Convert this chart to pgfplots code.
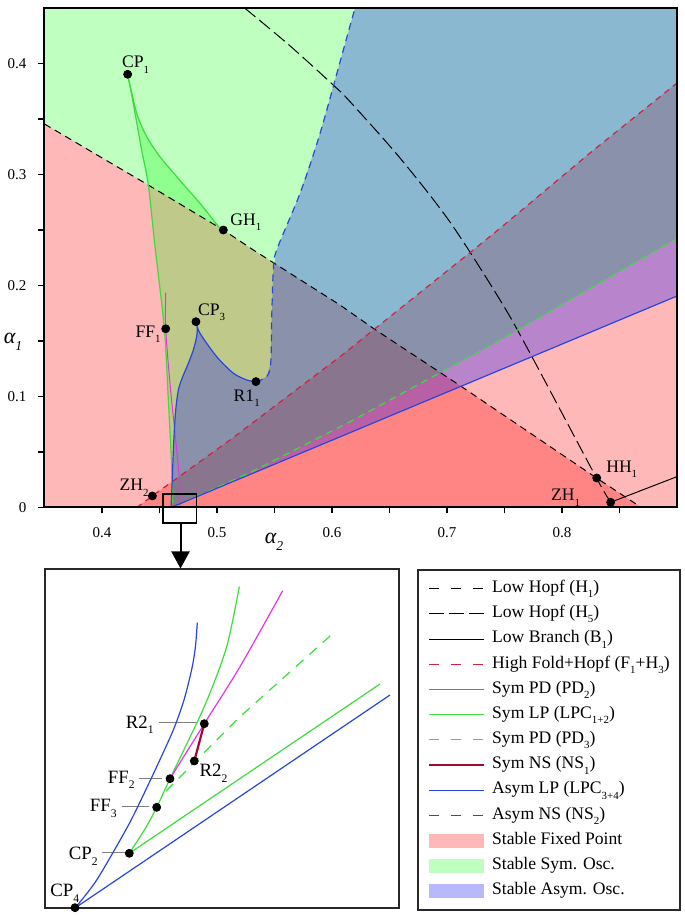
\documentclass[border=0pt]{standalone}
\usepackage{fontspec}
\setmainfont{Liberation Serif}
\usepackage{graphicx}
\usepackage{pgfplots}
\pgfplotsset{compat=1.18}
\usetikzlibrary{arrows.meta}

\definecolor{cGreen}{RGB}{60,220,60}
\definecolor{cMag}{RGB}{230,50,230}
\definecolor{cBlue}{RGB}{40,70,220}
\definecolor{cRed}{RGB}{215,30,60}
\definecolor{cMaroon}{RGB}{160,10,50}
\definecolor{cBox}{RGB}{40,40,40}

\pgfplotsset{
 leg line/.style={legend image code/.code={\draw[##1] (0pt,0pt) -- (27.5pt,0pt);}},
 leg area/.style={legend image code/.code={\fill[draw=none,##1] (0pt,-3.5pt) rectangle (27.5pt,3.5pt);}},
}
\newcommand{\lab}{\fontsize{8.8}{10}\selectfont}
\newcommand{\labi}{\fontsize{9.4}{11}\selectfont}
\newcommand{\sub}[1]{\raisebox{-0.3em}{\scalebox{0.62}{#1}}}

\begin{document}
\begin{tikzpicture}
\path[use as bounding box] (0,0) rectangle (342.5pt,458.5pt);

% ================= MAIN AXIS =================
\begin{axis}[
 at={(22.25pt,204.75pt)}, anchor=south west,
 width=316.25pt, height=249.75pt, scale only axis,
 xmin=0.35, xmax=0.9, ymin=0, ymax=0.45,
 xtick={0.4,0.5,0.6,0.7,0.8}, minor xtick={0.45,0.55,0.65,0.75,0.85},
 ytick={0,0.1,0.2,0.3,0.4}, minor ytick={0.05,0.15,0.25,0.35},
 tick pos=left, tick align=outside, major tick length=3pt, minor tick length=3pt,
 tick style={line width=0.8pt, black},
 axis line style={line width=1pt},
 axis on top, clip=false,
 ticklabel style={font=\fontsize{7.5}{8}\selectfont},
 xticklabel style={yshift=-3.5pt},
 yticklabel style={xshift=-2.5pt},
 /pgf/number format/assume math mode=true,
]
% ---- fills ----
% stable low fixed point (below H1)
\addplot[draw=none, fill=red, fill opacity=0.28] coordinates {(0.35,0) (0.35,0.3455) (0.3983,0.316) (0.4403,0.2905) (0.5055,0.25) (0.5316,0.232) (0.607,0.1824) (0.6359,0.1614) (0.7128,0.1088) (0.83,0.0266) (0.869,0)} -- cycle;
% stable high fixed point (below F1+H3)
\addplot[draw=none, fill=red, fill opacity=0.28] coordinates {(0.4302,0) (0.4438,0.0104) (0.5113,0.0608) (0.607,0.1359) (0.7229,0.232) (0.7461,0.2515) (0.8258,0.3206) (0.9,0.3824) (0.9,0)} -- cycle;
% stable sym osc
\addplot[draw=none, fill=green, fill opacity=0.25] coordinates {(0.35,0.45) (0.35,0.3455) (0.3983,0.316) (0.4403,0.2905) (0.4461,0.235) (0.4542,0.161) (0.4577,0.0968) (0.4606,0.0368) (0.4615,0.0038) (0.463,0.001) (0.53,0.032) (0.6157,0.0773) (0.7461,0.1509) (0.9,0.2425) (0.9,0.45)} -- cycle;
\addplot[draw=none, fill=green, fill opacity=0.25] coordinates {(0.4223,0.3903) (0.4302,0.3551) (0.4389,0.334) (0.4504,0.316) (0.465,0.298) (0.4852,0.274) (0.5026,0.2515) (0.5055,0.25) (0.4403,0.2905) (0.4345,0.322) (0.4272,0.3641)} -- cycle;
% stable asym osc
\addplot[draw=none, fill=blue, fill opacity=0.28] coordinates {(0.46,0) (0.4606,0.0128) (0.4615,0.0368) (0.4626,0.0638) (0.4641,0.0878) (0.4664,0.1059) (0.4702,0.1178) (0.4751,0.1299) (0.4794,0.1419) (0.4823,0.1539) (0.4829,0.1629) (0.4817,0.1674) (0.4852,0.157) (0.4997,0.1359) (0.5142,0.121) (0.5258,0.1149) (0.5339,0.1134) (0.5432,0.1178) (0.5467,0.13) (0.5476,0.172) (0.549,0.214) (0.5519,0.232) (0.5722,0.283) (0.5896,0.337) (0.6098,0.412) (0.62,0.45) (0.9,0.45) (0.9,0.1905)} -- cycle;

% ---- curves ----
% H1
\addplot[black, line width=0.5pt, dash pattern=on 3.5pt off 2.5pt] coordinates {(0.35,0.3455) (0.3983,0.316) (0.4403,0.2905) (0.5055,0.25) (0.5316,0.232) (0.607,0.1824) (0.6359,0.1614) (0.7128,0.1088) (0.83,0.0266) (0.869,0)};
% H5
\addplot[black, line width=0.5pt, dash pattern=on 7pt off 2.5pt, smooth, tension=0.5] coordinates {(0.524,0.45) (0.5626,0.4167) (0.6011,0.3806) (0.6157,0.3656) (0.6591,0.3149) (0.7026,0.2572) (0.7461,0.187) (0.7707,0.1419) (0.83,0.0266) (0.8423,0.0047) (0.8445,0)};
% B1
\addplot[black, line width=0.5pt] coordinates {(0.8423,0.0047) (0.9,0.0278)};
% F1+H3
\addplot[cRed, line width=0.6pt, dash pattern=on 3pt off 2.5pt] coordinates {(0.4302,0) (0.4438,0.0104) (0.5113,0.0608) (0.607,0.1359) (0.7229,0.232) (0.7461,0.2515) (0.8258,0.3206) (0.9,0.3824)};
% PD2
\addplot[cMag, line width=0.5pt, smooth] coordinates {(0.4554,0.1935) (0.4554,0.161) (0.4591,0.1119) (0.4635,0.0668) (0.4672,0.0277) (0.4678,0.0097) (0.4676,0)};
% LPC1+2
\addplot[cGreen, line width=0.6pt, smooth] coordinates {(0.4615,0.0038) (0.4606,0.0368) (0.4577,0.0968) (0.4542,0.161) (0.4461,0.235) (0.4403,0.2905) (0.4345,0.322) (0.4272,0.3641) (0.4223,0.3903)};
\addplot[cGreen, line width=0.6pt, smooth] coordinates {(0.4223,0.3903) (0.4302,0.3551) (0.4389,0.334) (0.4504,0.316) (0.465,0.298) (0.4852,0.274) (0.5026,0.2515) (0.5055,0.25)};
% PD3
\addplot[cGreen, line width=0.6pt, dash pattern=on 3.5pt off 2.5pt] coordinates {(0.463,0.001) (0.53,0.032) (0.6157,0.0773) (0.7461,0.1509) (0.9,0.2425)};
% LPC3+4
\addplot[cBlue, line width=0.6pt, smooth] coordinates {(0.46,0) (0.4606,0.0128) (0.4615,0.0368) (0.4626,0.0638) (0.4641,0.0878) (0.4664,0.1059) (0.4702,0.1178) (0.4751,0.1299) (0.4794,0.1419) (0.4823,0.1539) (0.4829,0.1629) (0.4817,0.1674)};
\addplot[cBlue, line width=0.6pt, smooth] coordinates {(0.4817,0.1674) (0.4852,0.157) (0.4997,0.1359) (0.5142,0.121) (0.5258,0.1149) (0.5339,0.1134)};
\addplot[cBlue, line width=0.6pt] coordinates {(0.46,0) (0.9,0.1905)};
% NS2
\addplot[cBlue, line width=0.6pt, dash pattern=on 3.5pt off 2.5pt, smooth] coordinates {(0.5339,0.1134) (0.5432,0.1178) (0.5467,0.13) (0.5476,0.172) (0.549,0.214) (0.5519,0.232) (0.5722,0.283) (0.5896,0.337) (0.6098,0.412) (0.62,0.45)};
% special points
\addplot[only marks, mark=*, mark size=2pt, black] coordinates {(0.4223,0.3903) (0.5055,0.25) (0.4554,0.161) (0.4817,0.1674) (0.5339,0.1134) (0.4438,0.0104) (0.8302,0.0266) (0.8423,0.0047)};

\node[anchor=base west, font=\lab] at (axis cs:0.4113,0.396) {CP\sub{1}};
\node[anchor=base west, font=\lab] at (axis cs:0.5055,0.2545) {GH\sub{1}};
\node[anchor=base east, font=\lab, inner xsep=0pt] at (axis cs:0.4513,0.1533) {FF\sub{1}};
\node[anchor=base west, font=\lab] at (axis cs:0.4774,0.1734) {CP\sub{3}};
\node[anchor=base west, font=\lab] at (axis cs:0.5084,0.0953) {R1\sub{1}};
\node[anchor=base east, font=\lab, inner xsep=0pt] at (axis cs:0.4409,0.0151) {ZH\sub{2}};
\node[anchor=base west, font=\lab] at (axis cs:0.8324,0.0314) {HH\sub{1}};
\node[anchor=base east, font=\lab, inner xsep=0pt] at (axis cs:0.8161,0.0061) {ZH\sub{1}};

\draw[line width=0.8pt, black] (axis cs:0.4533,-0.0142) rectangle (axis cs:0.4823,0.0119);
\end{axis}

% axis labels
\node[font=\fontsize{11}{12}\selectfont] at (6.5pt,287.5pt) {\textit{α\sub{1}}};
\node[font=\fontsize{11}{12}\selectfont] at (137pt,187.5pt) {\textit{α\sub{2}}};

% arrow to inset
\draw[line width=1pt, -{Triangle[width=9pt,length=8.5pt]}] (90.25pt,196.85pt) -- (90.25pt,174.25pt);

% ================= INSET AXIS =================
\begin{axis}[
 at={(22.5pt,4.5pt)}, anchor=south west,
 width=177pt, height=169.5pt, scale only axis,
 xmin=0, xmax=354, ymin=0, ymax=339,
 xtick=\empty, ytick=\empty,
 axis line style={line width=1pt, cBox},
 clip=false,
 legend style={at={(1.0508,1)}, anchor=north west, draw=cBox, line width=1pt,
   font=\lab, inner xsep=5pt, inner ysep=3pt, row sep=0pt,
   nodes={inner sep=0pt, text height=8.2pt, text depth=4.4pt},
   /tikz/every odd column/.style={column sep=3.5pt}},
 legend cell align=left,
]
\addlegendimage{leg line, black, line width=0.5pt, dash pattern=on 5pt off 6pt}
\addlegendentry{Low Hopf (H\sub{1})}
\addlegendimage{leg line, black, line width=0.5pt, dash pattern=on 7.5pt off 2.5pt}
\addlegendentry{Low Hopf (H\sub{5})}
\addlegendimage{leg line, black, line width=0.5pt}
\addlegendentry{Low Branch (B\sub{1})}
\addlegendimage{leg line, cRed, line width=0.6pt, dash pattern=on 5pt off 6pt}
\addlegendentry{High Fold+Hopf (F\sub{1}+H\sub{3})}
\addlegendimage{leg line, cMag, line width=0.6pt}
\addlegendentry{Sym PD (PD\sub{2})}
\addlegendimage{leg line, cGreen, line width=0.6pt}
\addlegendentry{Sym LP (LPC\sub{1+2})}
\addlegendimage{leg line, cGreen, line width=0.6pt, dash pattern=on 5pt off 6pt}
\addlegendentry{Sym PD (PD\sub{3})}
\addlegendimage{leg line, cMaroon, line width=1.1pt}
\addlegendentry{Sym NS (NS\sub{1})}
\addlegendimage{leg line, cBlue, line width=0.6pt}
\addlegendentry{Asym LP (LPC\sub{3+4})}
\addlegendimage{leg line, cBlue, line width=0.6pt, dash pattern=on 5pt off 6pt}
\addlegendentry{Asym NS (NS\sub{2})}
\addlegendimage{leg area, fill=red, fill opacity=0.28}
\addlegendentry{Stable Fixed Point}
\addlegendimage{leg area, fill=green, fill opacity=0.25}
\addlegendentry{Stable Sym. Osc.}
\addlegendimage{leg area, fill=blue, fill opacity=0.28}
\addlegendentry{Stable Asym. Osc.}

% leader lines
\addplot[forget plot, gray, line width=0.5pt] coordinates {(114.3,185.3) (151.7,185.3)};
\addplot[forget plot, gray, line width=0.5pt] coordinates {(94.3,129) (116.7,129)};
\addplot[forget plot, gray, line width=0.5pt] coordinates {(76.7,101.7) (104.3,101.7)};
\addplot[forget plot, gray, line width=0.5pt] coordinates {(56.7,55.3) (80,55.3)};
% curves
\addplot[forget plot, cBlue, line width=0.6pt, smooth] coordinates {(30,0) (51.7,28) (81.7,79.7) (95,106) (111.7,141.3) (128.3,178) (139,208) (147,240) (150.5,262) (152.3,285.3)};
\addplot[forget plot, cBlue, line width=0.6pt] coordinates {(30,0) (345,213)};
\addplot[forget plot, cGreen, line width=0.6pt, smooth] coordinates {(84.3,54.7) (100,79) (111.7,100.7) (125,129.3) (141.7,164) (161.7,207) (181.7,261.3) (194.3,321.3)};
\addplot[forget plot, cGreen, line width=0.6pt] coordinates {(84.3,54.7) (335,224)};
\addplot[forget plot, cGreen, line width=0.6pt, dash pattern=on 5pt off 4pt] coordinates {(121,117) (195,191.3) (291,277.3)};
\addplot[forget plot, cMag, line width=0.6pt, smooth] coordinates {(125,129.3) (159.3,184.3) (195,241.3) (237.7,317.3)};
\addplot[forget plot, cMaroon, line width=1.1pt] coordinates {(159.3,184.3) (149.3,147)};
\addplot[forget plot, only marks, mark=*, mark size=2pt, black] coordinates {(30,0.3) (84.3,54.7) (111.7,100.7) (125,129.3) (149.3,147) (159.3,184.3)};

\node[anchor=base east, font=\labi, inner xsep=0pt] at (axis cs:109,179.7) {R2\sub{1}};
\node[anchor=base east, font=\labi, inner xsep=0pt] at (axis cs:90,124.7) {FF\sub{2}};
\node[anchor=base east, font=\labi, inner xsep=0pt] at (axis cs:72,96.3) {FF\sub{3}};
\node[anchor=base west, font=\labi, inner xsep=0pt] at (axis cs:154.3,131.3) {R2\sub{2}};
\node[anchor=base east, font=\labi, inner xsep=0pt] at (axis cs:53,48) {CP\sub{2}};
\node[anchor=base west, font=\labi, inner xsep=0pt] at (axis cs:5,11.3) {CP\sub{4}};
\end{axis}
\end{tikzpicture}
\end{document}
